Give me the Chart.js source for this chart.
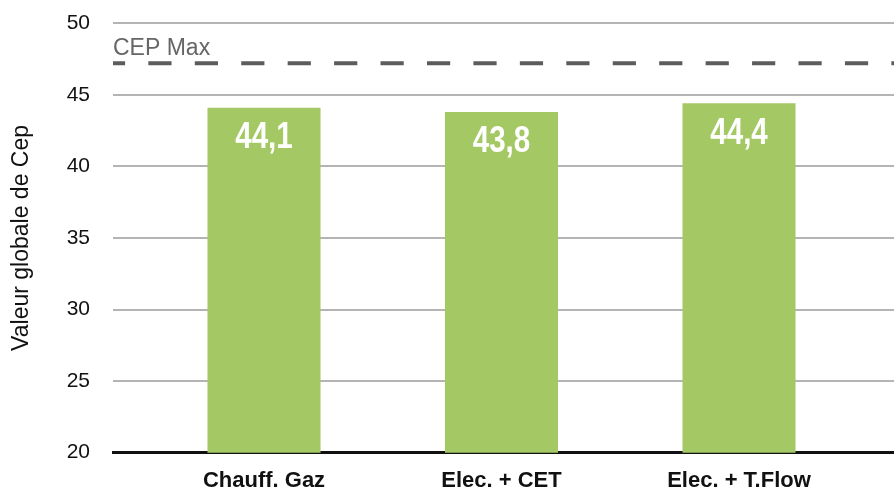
<!DOCTYPE html>
<html>
<head>
<meta charset="utf-8">
<script src="https://cdn.jsdelivr.net/npm/chart.js@4/dist/chart.umd.min.js"></script>
<style>
  html, body { margin: 0; padding: 0; background: #fff; }
  #wrap { width: 894px; height: 490px; position: relative; }
</style>
</head>
<body>
<div id="wrap"><canvas id="c" width="894" height="490"></canvas></div>
<script>
const categories = ['Chauff. Gaz', 'Elec. + CET', 'Elec. + T.Flow'];
const cepValues = [44.1, 43.8, 44.4];
const cepMax = 47.2;
const cepMaxLabel = 'CEP Max';
const yTicks = [20, 25, 30, 35, 40, 45, 50];
const yTitle = 'Valeur globale de Cep';

const fmt = v => v.toFixed(1).replace('.', ',');

const overlay = {
  id: 'overlay',
  afterDatasetsDraw(chart) {
    const ctx = chart.ctx;
    const area = chart.chartArea;
    const y = chart.scales.y;
    const yp = y.getPixelForValue(cepMax);
    ctx.save();
    ctx.strokeStyle = '#5c5c5c';
    ctx.lineWidth = 4;
    ctx.setLineDash([23.2, 23.24]);
    ctx.lineDashOffset = 11.1;
    ctx.beginPath();
    ctx.moveTo(area.left, yp);
    ctx.lineTo(area.right, yp);
    ctx.stroke();
    ctx.setLineDash([]);
    ctx.fillStyle = '#666666';
    ctx.font = '23px "Liberation Sans", Arial, sans-serif';
    ctx.textAlign = 'left';
    ctx.textBaseline = 'alphabetic';
    ctx.fillText(cepMaxLabel, area.left, yp - 8);
    ctx.restore();
    const meta = chart.getDatasetMeta(0);
    meta.data.forEach((el, i) => {
      ctx.save();
      ctx.translate(el.x, el.y + 30);
      ctx.scale(0.8, 1);
      ctx.fillStyle = '#ffffff';
      ctx.font = 'bold 37px "Liberation Sans", Arial, sans-serif';
      ctx.textAlign = 'center';
      ctx.textBaseline = 'middle';
      ctx.fillText(fmt(cepValues[i]), 0, 0);
      ctx.restore();
    });
  }
};

new Chart(document.getElementById('c'), {
  type: 'bar',
  data: {
    datasets: [{
      data: cepValues.map((v, i) => ({ x: i, y: v })),
      backgroundColor: '#a4c964',
      borderWidth: 0,
      categoryPercentage: 1,
      barPercentage: 0.476
    }]
  },
  options: {
    responsive: false,
    animation: false,
    layout: { padding: { top: 23.2, right: 0, bottom: 0, left: 0 } },
    plugins: { legend: { display: false }, tooltip: { enabled: false } },
    scales: {
      x: {
        type: 'linear',
        offset: false,
        min: -0.6358,
        max: 2.6526,
        grid: { display: false, drawTicks: false, offset: false },
        border: { display: true, color: '#111111', width: 3 },
        afterBuildTicks: s => { s.ticks = categories.map((c, i) => ({ value: i })); },
        afterFit: s => { s.height = 37.3; s.paddingLeft = 0; s.paddingRight = 0; },
        ticks: {
          padding: 15,
          autoSkip: false,
          maxRotation: 0,
          color: '#111111',
          font: { family: '"Liberation Sans", Arial, sans-serif', size: 22, weight: 'bold' },
          callback: v => categories[v]
        }
      },
      y: {
        min: 20,
        max: 50,
        afterBuildTicks: s => { s.ticks = yTicks.map(v => ({ value: v })); },
        afterFit: s => { s.width = 113; s.paddingTop = 0; s.paddingBottom = 0; },
        grid: {
          drawTicks: false,
          lineWidth: 2,
          color: ctx => (ctx.tick && ctx.tick.value === 20) ? 'rgba(0,0,0,0)' : '#b4b4b4'
        },
        border: { display: false },
        ticks: {
          padding: 23,
          color: '#111111',
          font: { family: '"Liberation Sans", Arial, sans-serif', size: 21 }
        },
        title: {
          display: true,
          text: yTitle,
          color: '#111111',
          padding: { top: 8, bottom: 0 },
          font: { family: '"Liberation Sans", Arial, sans-serif', size: 23 }
        }
      }
    }
  },
  plugins: [overlay]
});
</script>
</body>
</html>
